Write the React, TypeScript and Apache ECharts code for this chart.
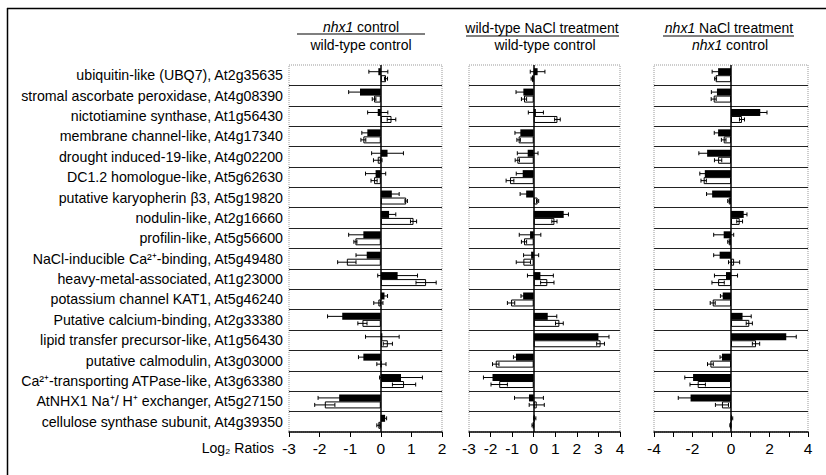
import React, { useEffect, useRef } from "react";
import * as echarts from "echarts";

const genes = [
  "ubiquitin-like (UBQ7), At2g35635",
  "stromal ascorbate peroxidase, At4g08390",
  "nictotiamine synthase, At1g56430",
  "membrane channel-like, At4g17340",
  "drought induced-19-like, At4g02200",
  "DC1.2 homologue-like, At5g62630",
  "putative karyopherin β3, At5g19820",
  "nodulin-like, At2g16660",
  "profilin-like, At5g56600",
  "NaCl-inducible Ca²⁺-binding, At5g49480",
  "heavy-metal-associated, At1g23000",
  "potassium channel KAT1, At5g46240",
  "Putative calcium-binding, At2g33380",
  "lipid transfer precursor-like, At1g56430",
  "putative calmodulin, At3g03000",
  "Ca²⁺-transporting ATPase-like, At3g63380",
  "AtNHX1 Na⁺/ H⁺ exchanger, At5g27150",
  "cellulose synthase subunit, At4g39350",
];

// Panel 1: nhx1 control / wild-type control
const p1Black = [-0.08, -0.68, -0.1, -0.44, 0.22, -0.17, 0.36, 0.27, -0.57, -0.46, 0.55, 0.12, -1.26, 0.05, -0.57, 0.66, -1.36, 0.14];
const p1BlackErr = [0.31, 0.37, 0.33, 0.18, 0.52, 0.33, 0.24, 0.22, 0.48, 0.35, 0.65, 0.1, 0.48, 0.55, 0.16, 0.7, 0.69, 0.05];
const p1White = [0.17, -0.22, 0.35, -0.57, -0.1, -0.22, 0.83, 1.07, -0.83, -1.11, 1.48, -0.08, -0.6, 0.23, 0.02, 0.76, -1.83, -0.08];
const p1WhiteErr = [0.05, 0.06, 0.14, 0.08, 0.14, 0.1, 0.04, 0.1, 0.05, 0.3, 0.33, 0.15, 0.15, 0.15, 0.15, 0.38, 0.33, 0.05];

// Panel 2: wild-type NaCl treatment / wild-type control
const p2Black = [0.18, -0.48, 0.1, -0.62, -0.28, -0.51, -0.35, 1.39, -0.17, -0.12, 0.31, -0.49, 0.65, 3.0, -0.82, -1.91, -0.22, 0.05];
const p2BlackErr = [0.34, 0.34, 0.35, 0.25, 0.48, 0.3, 0.28, 0.22, 0.5, 0.35, 0.6, 0.1, 0.42, 0.49, 0.12, 0.42, 0.67, 0.05];
const p2White = [-0.08, -0.45, 1.1, -0.7, -0.76, -1.1, 0.18, 0.96, -0.45, -0.48, 0.63, -1.05, 1.19, 3.1, -1.76, -1.6, 0.14, -0.04];
const p2WhiteErr = [0.04, 0.12, 0.13, 0.08, 0.1, 0.18, 0.05, 0.12, 0.12, 0.33, 0.31, 0.17, 0.18, 0.18, 0.15, 0.38, 0.35, 0.04];

// Panel 3: nhx1 NaCl treatment / nhx1 control
const p3Black = [-0.67, -0.73, 1.52, -0.67, -1.24, -1.36, -0.98, 0.66, -0.38, -0.59, -0.26, -0.43, 0.6, 2.87, -0.47, -1.97, -2.1, 0.05];
const p3BlackErr = [0.31, 0.29, 0.35, 0.2, 0.43, 0.26, 0.29, 0.17, 0.52, 0.31, 0.6, 0.12, 0.45, 0.52, 0.1, 0.43, 0.64, 0.04];
const p3White = [-0.8, -0.9, 0.57, -0.38, -0.67, -1.42, -0.12, 0.45, -0.12, 0.16, -0.67, -0.95, 0.95, 1.3, -1.07, -1.73, -0.47, -0.03];
const p3WhiteErr = [0.05, 0.13, 0.13, 0.12, 0.19, 0.14, 0.05, 0.15, 0.05, 0.29, 0.32, 0.13, 0.16, 0.19, 0.15, 0.4, 0.34, 0.03];

const axisMins = [-3, -3, -4];
const axisMaxs = [2, 4, 4];
const labelSteps = [1, 1, 2];

const FONT = "'Liberation Sans', Arial, sans-serif";

const panels = [
  { black: p1Black, blackErr: p1BlackErr, white: p1White, whiteErr: p1WhiteErr, left: 289, width: 153 },
  { black: p2Black, blackErr: p2BlackErr, white: p2White, whiteErr: p2WhiteErr, left: 469, width: 151 },
  { black: p3Black, blackErr: p3BlackErr, white: p3White, whiteErr: p3WhiteErr, left: 654, width: 154 },
];

const BAR_W = 7;

function errRenderer(offset: number) {
  return (params: any, api: any) => {
    const v = api.value(0);
    const i = api.value(1);
    const e = api.value(2);
    const c = api.coord([v, i]);
    const l = api.coord([v - e, i]);
    const r = api.coord([v + e, i]);
    const y = c[1] + offset;
    const cap = 2;
    const st = { stroke: "#000", lineWidth: 1 };
    return {
      type: "group",
      children: [
        { type: "line", shape: { x1: l[0], y1: y, x2: r[0], y2: y }, style: st },
        { type: "line", shape: { x1: l[0], y1: y - cap, x2: l[0], y2: y + cap }, style: st },
        { type: "line", shape: { x1: r[0], y1: y - cap, x2: r[0], y2: y + cap }, style: st },
      ],
    };
  };
}

export default function App() {
  const ref = useRef<HTMLDivElement>(null);
  useEffect(() => {
    if (!ref.current) return;
    const chart = echarts.init(ref.current, undefined, { renderer: "svg" });
    const grids: any[] = [];
    const xAxes: any[] = [];
    const yAxes: any[] = [];
    const series: any[] = [];
    panels.forEach((p, k) => {
      grids.push({
        left: p.left,
        width: p.width,
        top: 65,
        height: 367,
        show: true,
        borderColor: "#999",
        borderWidth: 1,
        borderType: "dotted",
        backgroundColor: "transparent",
      });
      const step = labelSteps[k];
      xAxes.push({
        type: "value",
        gridIndex: k,
        min: axisMins[k],
        max: axisMaxs[k],
        interval: 1,
        axisLine: { show: true, onZero: false, lineStyle: { color: "#000", width: 1.5 } },
        axisTick: { show: true, length: 5, lineStyle: { color: "#000", width: 1 } },
        axisLabel: {
          color: "#000",
          fontSize: 15.5,
          fontFamily: FONT,
          margin: 8,
          formatter: (v: number) => (Math.round(v) % step === 0 ? String(v) : ""),
        },
        splitLine: { show: false },
      });
      yAxes.push({
        type: "category",
        gridIndex: k,
        data: genes,
        inverse: true,
        axisLine: { show: false },
        axisTick: { show: false },
        axisLabel: {
          show: k === 0,
          color: "#000",
          fontSize: 14.2,
          fontFamily: FONT,
          margin: 6,
        },
        splitLine: {
          show: true,
          showMinLine: false,
          showMaxLine: false,
          lineStyle: { color: "#222", width: 1.2 },
        },
      });
      series.push({
        type: "bar",
        xAxisIndex: k,
        yAxisIndex: k,
        data: p.black,
        barWidth: BAR_W,
        barGap: "0%",
        itemStyle: { color: "#000" },
        z: 2,
        markLine: {
          silent: true,
          symbol: ["none", "none"],
          label: { show: false },
          lineStyle: { color: "#000", type: "solid", width: 1.5 },
          data: [{ xAxis: 0 }],
          z: 5,
        },
      });
      series.push({
        type: "bar",
        xAxisIndex: k,
        yAxisIndex: k,
        data: p.white,
        barWidth: BAR_W,
        barGap: "0%",
        itemStyle: { color: "#fff", borderColor: "#000", borderWidth: 1 },
        z: 2,
      });
      series.push({
        type: "custom",
        xAxisIndex: k,
        yAxisIndex: k,
        renderItem: errRenderer(-BAR_W / 2),
        encode: { x: 0, y: 1 },
        data: p.black.map((v, i) => [v, i, p.blackErr[i]]),
        z: 4,
      });
      series.push({
        type: "custom",
        xAxisIndex: k,
        yAxisIndex: k,
        renderItem: errRenderer(BAR_W / 2),
        encode: { x: 0, y: 1 },
        data: p.white.map((v, i) => [v, i, p.whiteErr[i]]),
        z: 4,
      });
    });

    const hdr = (x: number, y: number, text: string) => ({
      type: "text",
      x,
      y,
      style: {
        text,
        fill: "#000",
        fontSize: 14,
        fontFamily: FONT,
        align: "center",
        verticalAlign: "middle",
        rich: { i: { fontStyle: "italic", fontSize: 14, fontFamily: FONT, fill: "#000" } },
      },
    });
    const ln = (x1: number, y1: number, x2: number, y2: number, w = 1.2) => ({
      type: "line",
      shape: { x1, y1, x2, y2 },
      style: { stroke: "#000", lineWidth: w },
    });

    chart.setOption({
      animation: false,
      backgroundColor: "#fff",
      grid: grids,
      xAxis: xAxes,
      yAxis: yAxes,
      series,
      graphic: [
        ln(7.5, 8, 7.5, 475, 1.5),
        ln(7, 8.5, 826, 8.5, 1.5),
        hdr(361, 27, "{i|nhx1} control"),
        ln(297, 34, 425, 34),
        hdr(361, 45, "wild-type control"),
        hdr(542, 28, "wild-type NaCl treatment"),
        ln(466, 36, 619, 36, 1),
        hdr(545, 45, "wild-type control"),
        hdr(729, 28, "{i|nhx1} NaCl treatment"),
        ln(663, 36, 794, 36, 1),
        hdr(730, 45, "{i|nhx1} control"),
        {
          type: "text",
          x: 274,
          y: 448,
          style: {
            text: "Log₂ Ratios",
            fill: "#000",
            fontSize: 14,
            fontFamily: FONT,
            align: "right",
            verticalAlign: "middle",
          },
        },
      ],
    });
    return () => chart.dispose();
  }, []);
  return (
    <div
      ref={ref}
      style={{ position: "fixed", left: 0, top: 0, width: 826, height: 475, background: "#fff" }}
    />
  );
}
